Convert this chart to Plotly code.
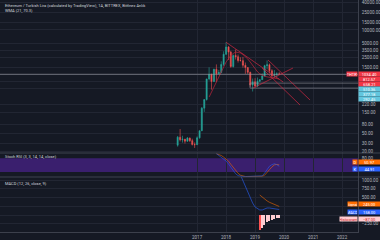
import math
import plotly.graph_objects as go

# ---- monthly ETH/TRY candles ----
months = ["2016-05-01", "2016-06-01", "2016-07-01", "2016-08-01", "2016-09-01", "2016-10-01",
          "2016-11-01", "2016-12-01", "2017-01-01", "2017-02-01", "2017-03-01", "2017-04-01",
          "2017-05-01", "2017-06-01", "2017-07-01", "2017-08-01", "2017-09-01", "2017-10-01",
          "2017-11-01", "2017-12-01", "2018-01-01", "2018-02-01", "2018-03-01", "2018-04-01",
          "2018-05-01", "2018-06-01", "2018-07-01", "2018-08-01", "2018-09-01", "2018-10-01",
          "2018-11-01", "2018-12-01", "2019-01-01", "2019-02-01", "2019-03-01", "2019-04-01",
          "2019-05-01", "2019-06-01", "2019-07-01", "2019-08-01", "2019-09-01", "2019-10-01",
          "2019-11-01"]
opens = [27.5, 41.4, 36.2, 37.4, 33.7, 39.5, 34.7, 28.4, 28.2, 40.1, 57.5, 183, 284, 817, 1031,
         714, 1341, 1061, 1132, 1716, 2888, 4193, 3223, 1541, 2714, 2543, 2093, 2078, 1641, 1462,
         1143, 599, 705, 567, 721, 783, 948, 1608, 1682, 1243, 963, 1026, 1056]
highs = [44.1, 62.8, 44.6, 37.9, 41.9, 40.8, 38.3, 31.7, 43.1, 58.6, 194, 288, 817, 1478, 1065,
         1372, 1715, 1295, 2009, 3362, 5325, 4373, 3432, 2835, 3696, 2852, 2472, 2523, 1890, 1480,
         1182, 832, 848, 875, 805, 1082, 1680, 2100, 1796, 1344, 1283, 1148, 1150]
lows = [25.5, 33.3, 31.4, 29.9, 32.9, 32.2, 27.1, 23.9, 28.0, 38.4, 56.7, 151, 270, 757, 472,
        700, 693, 1036, 1092, 1574, 2775, 2149, 1443, 1458, 2200, 1886, 2016, 1450, 1058, 1044,
        541, 429, 530, 541, 694, 781, 940, 1334, 1083, 896, 884, 882, 1010]
closes = [41.4, 36.2, 37.4, 33.7, 39.5, 34.7, 28.4, 28.2, 40.1, 57.5, 183, 284, 817, 1031, 714,
          1341, 1061, 1132, 1716, 2888, 4193, 3223, 1541, 2714, 2543, 2093, 2078, 1641, 1462, 1143,
          599, 705, 567, 721, 783, 948, 1608, 1682, 1243, 963, 1026, 1056, 1034.40]

# WMA overlay
wma_start = 13  # 2017-06
wma_values = [323, 418, 541, 733, 950, 1232, 1593, 1938, 2313, 2700, 2993, 3234, 3150, 3070, 2850,
              2576, 2262, 1938, 1625, 1362, 1172, 1058, 980, 931, 908, 886, 864, 843, 822, 812.57]

# Stoch RSI (3, 3, 14, 14)
stoch_start = 16  # 2017-09
stoch_k = [100, 92, 85, 78, 68, 55, 40, 25, 12, 4, 1, 0, 0, 0, 0, 0, 0, 0, 0, 3, 15, 30, 45, 52,
           56, 52, 44.91]
stoch_d = [100, 97, 92, 85, 77, 67, 54, 40, 26, 14, 6, 2, 0, 0, 0, 0, 0, 0, 0, 1, 6, 16, 30, 42,
           51, 53, 50.97]

# MACD (12, 26, 9)
macd_start = 26  # 2018-07
macd_line = [1150, 977, 833, 660, 488, 345, 230, 172, 144, 144, 172, 201, 201, 187, 172, 172, 158]
signal_start = 34  # 2019-03
signal_line = [574, 510, 455, 405, 365, 330, 300, 270, 245]

# drawings on the price pane
trend_lines = [
    (["2018-01-01", "2019-12-20"], [5325, 698]),
    (["2019-06-13", "2020-11-23"], [2150, 277.6]),
    (["2019-03-28", "2020-07-20"], [1426, 215]),
    (["2018-12-06", "2020-04-22"], [512, 1426]),
]
zone_start = "2018-10-29"
zone_levels = [658.21, 510.36]
extra_levels = [377.18, 292.45]

# axis ticks; labels that sit under the value tags are left blank (grid line only)
price_ticks = [40000, 25000, 15000, 10000, 5000, 3500, 2500, 1500, 1000, 700, 500, 220, 150, 80, 50, 30, 20]
price_hidden = {1000, 700, 500}
stoch_ticks = [80, 20]
stoch_hidden = {20}
macd_ticks = [1000, 750, 500, 250, 0, -250]
macd_hidden = {250, 0}
year_ticks = ["2017-01-01", "2018-01-01", "2019-01-01", "2020-01-01", "2021-01-01", "2022-01-01"]
year_labels = ["2017", "2018", "2019", "2020", "2021", "2022"]

X_LEFT, X_RIGHT = "2010-03-17", "2022-07-20"
PRICE_RANGE = [1.2656, 4.6656]      # log10 bounds of the price pane
PRICE_PANE_PX = 153                 # pixel height of the price pane

BG = "#151924"
GRID = "#222633"
SEP = "#3c404c"
AXIS_TXT = "#b2b5be"
UP = "#26a69a"
DOWN = "#ef5350"
DRAW = "rgba(215,40,66,0.85)"
FONT = "Roboto"


def fmt(v):
    return f"{v:.2f}".replace("-", "\u2212")


def tick_text(ticks, hidden):
    return ["" if v in hidden else fmt(v) for v in ticks]


fig = go.Figure()

fig.add_trace(go.Candlestick(
    x=months, open=opens, high=highs, low=lows, close=closes,
    increasing=dict(line=dict(color=UP, width=0.6), fillcolor=UP),
    decreasing=dict(line=dict(color=DOWN, width=0.6), fillcolor=DOWN),
    whiskerwidth=0, xaxis="x", yaxis="y", hoverinfo="skip"))

fig.add_trace(go.Scatter(x=months[wma_start:], y=wma_values, mode="lines",
                         line=dict(color="rgba(190,36,60,0.9)", width=0.8), yaxis="y"))

# current price line
fig.add_trace(go.Scatter(x=[X_LEFT, X_RIGHT], y=[closes[-1], closes[-1]], mode="lines",
                         line=dict(color="#a3a6af", width=0.6), yaxis="y"))

# horizontal zone
zx = [zone_start, X_RIGHT, None, zone_start, X_RIGHT, None, zone_start, zone_start]
zy = [zone_levels[0], zone_levels[0], None, zone_levels[1], zone_levels[1], None,
      zone_levels[0], zone_levels[1]]
fig.add_trace(go.Scatter(x=zx, y=zy, mode="lines", line=dict(color="#8e919a", width=0.6),
                         yaxis="y", connectgaps=False))

for dx, py in trend_lines:
    fig.add_trace(go.Scatter(x=dx, y=py, mode="lines", line=dict(color=DRAW, width=0.8), yaxis="y"))

# Stoch RSI pane
fig.add_trace(go.Scatter(x=months[stoch_start:], y=stoch_d, mode="lines",
                         line=dict(color="rgba(255,109,0,0.75)", width=0.7), yaxis="y2"))
fig.add_trace(go.Scatter(x=months[stoch_start:], y=stoch_k, mode="lines",
                         line=dict(color="rgba(41,98,255,0.75)", width=0.7), yaxis="y2"))

# MACD pane
hist = [macd_line[signal_start - macd_start + i] - s for i, s in enumerate(signal_line)]
hist_colors = []
for i, h in enumerate(hist):
    falling = i == 0 or h < hist[i - 1]
    if h < 0:
        hist_colors.append("#ff5252" if falling else "#ffcdd2")
    else:
        hist_colors.append("#26a69a" if not falling else "#b2dfdb")
fig.add_trace(go.Bar(x=months[signal_start:], y=hist, marker=dict(color=hist_colors, line=dict(width=0)),
                     width=18 * 86400000, yaxis="y3"))
fig.add_trace(go.Scatter(x=months[macd_start:], y=macd_line, mode="lines",
                         line=dict(color="rgba(41,98,255,0.85)", width=0.7), yaxis="y3"))
fig.add_trace(go.Scatter(x=months[signal_start:], y=signal_line, mode="lines",
                         line=dict(color="rgba(255,109,0,0.8)", width=0.7), yaxis="y3"))

TICKFONT = dict(size=4.5, color=AXIS_TXT, family=FONT)
ycommon = dict(side="right", anchor="x", showgrid=True, gridcolor=GRID, gridwidth=0.6,
               zeroline=False, ticks="", tickfont=TICKFONT, showline=True, linecolor=SEP,
               linewidth=0.8, ticklabelstandoff=2, fixedrange=True)

fig.update_layout(
    width=380, height=240, margin=dict(l=0, r=22, t=0, b=8),
    paper_bgcolor=BG, plot_bgcolor=BG, showlegend=False, bargap=0,
    xaxis=dict(type="date", range=[X_LEFT, X_RIGHT], anchor="y3", tickvals=year_ticks,
               ticktext=year_labels, showgrid=True, gridcolor=GRID, gridwidth=0.6,
               tickfont=TICKFONT, ticks="", showline=True, linecolor=SEP, linewidth=0.8,
               rangeslider=dict(visible=False), zeroline=False, ticklabelstandoff=1),
    yaxis=dict(domain=[0.3405, 1], type="log", range=PRICE_RANGE, tickvals=price_ticks,
               ticktext=tick_text(price_ticks, price_hidden), **ycommon),
    yaxis2=dict(domain=[0.2371, 0.3405], range=[-2, 103], tickvals=stoch_ticks,
                ticktext=tick_text(stoch_ticks, stoch_hidden), **{**ycommon, "showgrid": False}),
    yaxis3=dict(domain=[0, 0.2371], range=[-488, 1091], tickvals=macd_ticks,
                ticktext=tick_text(macd_ticks, macd_hidden), **ycommon),
)

shapes = [
    dict(type="rect", xref="paper", yref="y2", x0=0, x1=1, y0=20, y1=80,
         fillcolor="#3a1f6e", line=dict(width=0), layer="below"),
    dict(type="line", xref="paper", yref="paper", x0=0, x1=1.0615, y0=0.3405, y1=0.3405,
         line=dict(color="#4a4e5a", width=0.8)),
    dict(type="line", xref="paper", yref="paper", x0=0, x1=1.0615, y0=0.2371, y1=0.2371,
         line=dict(color="#4a4e5a", width=0.8)),
]
fig.update_layout(shapes=shapes)

anns = []
TAG_H = 4.3
TAG_STEP = 4.8


def tag(yref, y, text, bg, fg="#ffffff", shift=0, label=None, label_w=10):
    anns.append(dict(xref="paper", yref=yref, x=1, y=y, xanchor="left", yanchor="middle",
                     text=text, showarrow=False, bgcolor=bg, width=21, height=TAG_H, borderpad=0,
                     font=dict(size=4, color=fg, family=FONT), yshift=shift, align="center"))
    if label:
        anns.append(dict(xref="paper", yref=yref, x=1, y=y, xanchor="right", yanchor="middle",
                         text=label, showarrow=False, bgcolor=bg, width=label_w, height=TAG_H,
                         borderpad=0, font=dict(size=4, color=fg, family=FONT), yshift=shift,
                         align="center"))


RED, CYAN = "#f23645", "#62c6de"
price_tags = [
    (closes[-1], RED, "ETHTRY"),
    (wma_values[-1], RED, None),
    (zone_levels[0], RED, None),
    (zone_levels[1], CYAN, None),
    (extra_levels[0], CYAN, None),
    (extra_levels[1], CYAN, None),
]
# stack the price-pane tags downward so none of them overlap
px_per_log = PRICE_PANE_PX / (PRICE_RANGE[1] - PRICE_RANGE[0])
prev = None
for val, col, lab in sorted(price_tags, key=lambda t: -t[0]):
    ypx = (PRICE_RANGE[1] - math.log10(val)) * px_per_log
    placed = ypx if prev is None else max(ypx, prev + TAG_STEP)
    prev = placed
    tag("y", math.log10(val), fmt(val), col, shift=-(placed - ypx), label=lab, label_w=10)

tag("y2", stoch_d[-1], fmt(stoch_d[-1]), "#ff6d00", shift=2.7, label="D", label_w=4)
tag("y2", stoch_k[-1], fmt(stoch_k[-1]), "#2962ff", shift=-2.7, label="K", label_w=4)

tag("y3", signal_line[-1], fmt(signal_line[-1]), "#ff6d00", shift=2.6, label="Signal", label_w=9)
tag("y3", macd_line[-1], fmt(macd_line[-1]), "#2962ff", shift=-2.6, label="MACD", label_w=9)
tag("y3", hist[-1], fmt(hist[-1]), "#ffcdd2", fg="#c62828", shift=-0.6, label="Histogram", label_w=17)

LEG = dict(size=4, color="#d1d4dc", family=FONT)
legend_lines = [
    ("Ethereum / Turkish Lira (calculated by TradingView), 1A, BITTREX, Bitfinex Anlık", 0.978),
    ("WMA (21, 70.3)", 0.9526),
    ("Stoch RSI (3, 3, 14, 14, close)", 0.3233),
    ("MACD (12, 26, close, 9)", 0.2112),
]
for txt, yy in legend_lines:
    anns.append(dict(xref="paper", yref="paper", x=0, y=yy, xanchor="left", yanchor="middle",
                     xshift=3, text=txt, showarrow=False, font=LEG))

fig.update_layout(annotations=anns)
fig.write_html("out.html")
